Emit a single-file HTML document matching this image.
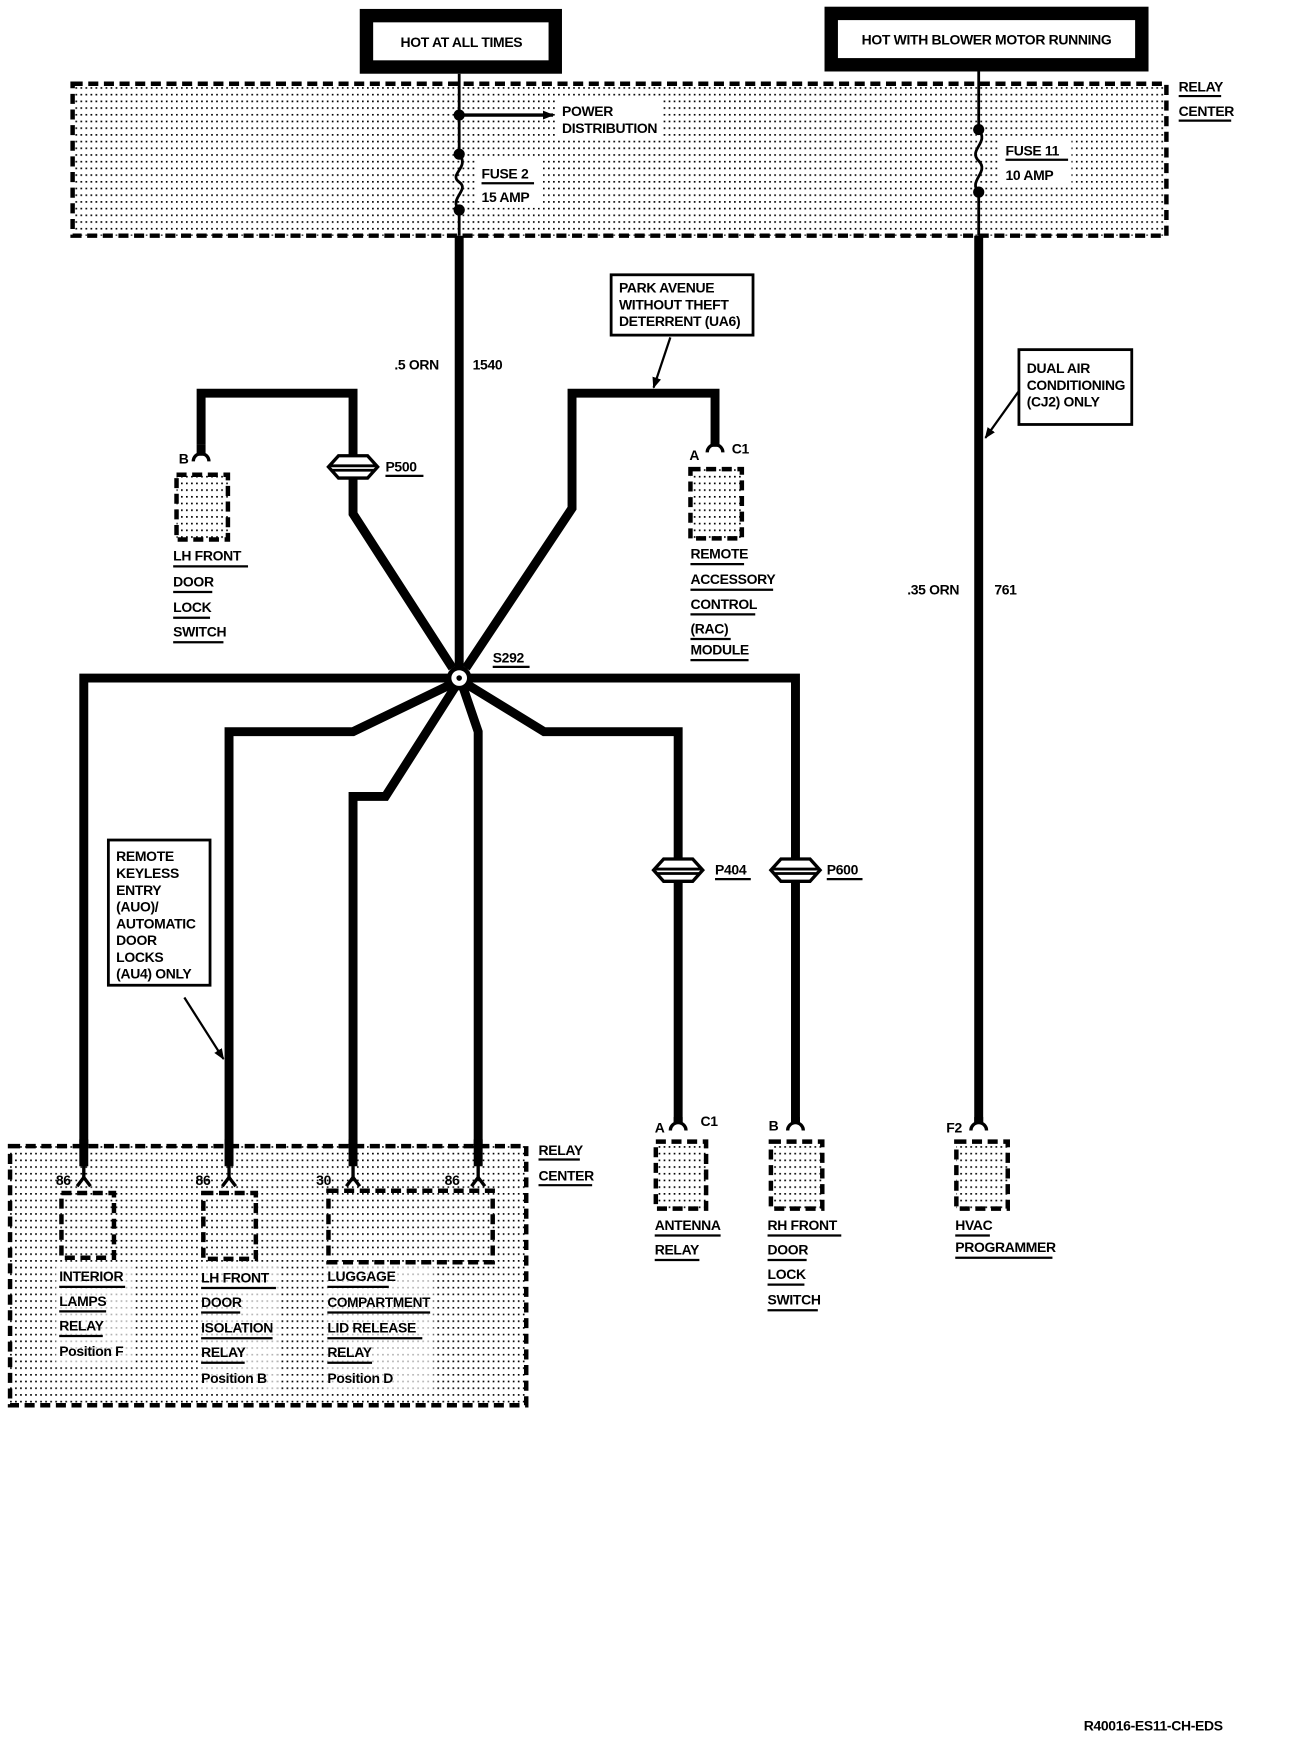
<!DOCTYPE html>
<html><head><meta charset="utf-8"><style>
html,body{margin:0;padding:0;background:#fff;}
svg{display:block;}
text{font-family:"Liberation Sans",sans-serif;font-size:12.5px;fill:#000;font-weight:bold;letter-spacing:-0.3px;}
</style></head><body>
<svg width="1296" height="1756" viewBox="0 0 1160 1572" preserveAspectRatio="none" xmlns="http://www.w3.org/2000/svg">
<defs>
<pattern id="dots" width="4.5" height="6" patternUnits="userSpaceOnUse"><rect x="0" y="0" width="1.5" height="1.5" fill="#000"/></pattern>
<marker id="ah" markerWidth="10" markerHeight="10" refX="9" refY="5" orient="auto" markerUnits="userSpaceOnUse"><path d="M0,1 L10,5 L0,9 Z" fill="#000"/></marker>
</defs>

<!-- top source boxes -->
<rect x="328" y="14" width="169" height="46" fill="#fff" stroke="#000" stroke-width="12"/>
<text x="413" y="42" text-anchor="middle">HOT AT ALL TIMES</text>
<rect x="744" y="12" width="278" height="46" fill="#fff" stroke="#000" stroke-width="12"/>
<text x="883" y="40" text-anchor="middle">HOT WITH BLOWER MOTOR RUNNING</text>

<!-- top relay center -->
<rect x="65" y="75" width="979" height="136" fill="url(#dots)" stroke="#000" stroke-width="4" stroke-dasharray="9,5"/>
<rect x="498" y="88" width="95" height="36" fill="#fff"/>
<rect x="426" y="142" width="58" height="44" fill="#fff"/>
<rect x="895" y="122" width="64" height="44" fill="#fff"/>
<text x="1055" y="82">RELAY</text><line x1="1055" y1="86" x2="1093" y2="86" stroke="#000" stroke-width="2"/>
<text x="1055" y="104">CENTER</text><line x1="1055" y1="108" x2="1102" y2="108" stroke="#000" stroke-width="2"/>

<!-- left feed -->
<line x1="411" y1="66" x2="411" y2="138" stroke="#000" stroke-width="2.5"/>
<path d="M411,138 C421,150 401,156 411,163 C421,170 401,178 411,188" fill="none" stroke="#000" stroke-width="2.5"/>
<line x1="411" y1="188" x2="411" y2="211" stroke="#000" stroke-width="2.5"/>
<circle cx="411" cy="103" r="5"/><circle cx="411" cy="138" r="5"/><circle cx="411" cy="188" r="5"/>
<line x1="411" y1="103" x2="495" y2="103" stroke="#000" stroke-width="3" marker-end="url(#ah)"/>
<text x="503" y="104">POWER</text>
<text x="503" y="119">DISTRIBUTION</text>
<text x="431" y="160">FUSE 2</text><line x1="431" y1="164" x2="478" y2="164" stroke="#000" stroke-width="2"/>
<text x="431" y="181">15 AMP</text>

<!-- right feed -->
<line x1="876" y1="64" x2="876" y2="116" stroke="#000" stroke-width="2.5"/>
<path d="M876,116 C886,128 866,134 876,144 C886,154 866,162 876,172" fill="none" stroke="#000" stroke-width="2.5"/>
<line x1="876" y1="172" x2="876" y2="211" stroke="#000" stroke-width="2.5"/>
<circle cx="876" cy="116" r="5"/><circle cx="876" cy="172" r="5"/>
<text x="900" y="139">FUSE 11</text><line x1="900" y1="143" x2="956" y2="143" stroke="#000" stroke-width="2"/>
<text x="900" y="161">10 AMP</text>

<g stroke="#000" stroke-width="8" fill="none" stroke-linejoin="miter">
<line x1="411" y1="211" x2="411" y2="600"/>
<line x1="876" y1="211" x2="876" y2="1005"/>
<polyline points="405,598 316,460 316,428"/>
<polyline points="316,408 316,352 180,352 180,398"/>
<polyline points="417,598 512,455 512,352 640,352 640,398"/>
<polyline points="75,1025 75,607 405,607"/>
<polyline points="417,607 712,607 712,772"/>
<line x1="712" y1="786" x2="712" y2="1005"/>
<polyline points="405,612 316,655 205,655 205,1025"/>
<polyline points="408,614 345,713 316,713 316,1025"/>
<polyline points="414,614 428,655 428,1025"/>
<polyline points="417,612 487,655 607,655 607,772"/>
<line x1="607" y1="786" x2="607" y2="1005"/>
</g>

<circle cx="411" cy="607" r="9" fill="#fff" stroke="#000" stroke-width="4"/>
<circle cx="411" cy="607" r="2.5"/>
<text x="441" y="593">S292</text><line x1="441" y1="597" x2="474" y2="597" stroke="#000" stroke-width="2"/>

<g fill="#fff" stroke="#000" stroke-width="3">
<path d="M294,418 L303,408 L329,408 L338,418 L329,428 L303,428 Z"/>
<path d="M585,779 L594,769 L620,769 L629,779 L620,789 L594,789 Z"/>
<path d="M690,779 L699,769 L725,769 L734,779 L725,789 L699,789 Z"/>
</g>
<g stroke="#000" stroke-width="2.5"><line x1="296" y1="417" x2="336" y2="417"/><line x1="296" y1="421" x2="336" y2="421"/>
<line x1="587" y1="778" x2="627" y2="778"/><line x1="587" y1="782" x2="627" y2="782"/>
<line x1="692" y1="778" x2="732" y2="778"/><line x1="692" y1="782" x2="732" y2="782"/></g>
<text x="345" y="422">P500</text><line x1="345" y1="426" x2="379" y2="426" stroke="#000" stroke-width="2"/>
<text x="640" y="783">P404</text><line x1="640" y1="787" x2="672" y2="787" stroke="#000" stroke-width="2"/>
<text x="740" y="783">P600</text><line x1="740" y1="787" x2="772" y2="787" stroke="#000" stroke-width="2"/>

<text x="353" y="331">.5 ORN</text><text x="423" y="331">1540</text>
<text x="812" y="532">.35 ORN</text><text x="890" y="532">761</text>

<rect x="547" y="246" width="127" height="54" fill="#fff" stroke="#000" stroke-width="2.5"/>
<text x="554" y="262">PARK AVENUE</text><text x="554" y="277">WITHOUT THEFT</text><text x="554" y="292">DETERRENT (UA6)</text>
<line x1="600" y1="302" x2="585" y2="347" stroke="#000" stroke-width="2" marker-end="url(#ah)"/>

<rect x="912" y="313" width="101" height="67" fill="#fff" stroke="#000" stroke-width="2.5"/>
<text x="919" y="334">DUAL AIR</text><text x="919" y="349" textLength="88" lengthAdjust="spacingAndGlyphs">CONDITIONING</text><text x="919" y="364">(CJ2) ONLY</text>
<line x1="912" y1="350" x2="882" y2="392" stroke="#000" stroke-width="2" marker-end="url(#ah)"/>

<rect x="97" y="752" width="91" height="130" fill="#fff" stroke="#000" stroke-width="2.5"/>
<g><text x="104" y="771">REMOTE</text><text x="104" y="786">KEYLESS</text><text x="104" y="801">ENTRY</text><text x="104" y="816">(AUO)/</text><text x="104" y="831">AUTOMATIC</text><text x="104" y="846">DOOR</text><text x="104" y="861">LOCKS</text><text x="104" y="876">(AU4) ONLY</text></g>
<line x1="165" y1="893" x2="200" y2="948" stroke="#000" stroke-width="2" marker-end="url(#ah)"/>

<g fill="none" stroke="#000" stroke-width="3">
<path d="M173,413 A7,7 0 0 1 187,413"/>
<path d="M633,405 A7,7 0 0 1 647,405"/>
<path d="M600,1012 A7,7 0 0 1 614,1012"/>
<path d="M705,1012 A7,7 0 0 1 719,1012"/>
<path d="M869,1012 A7,7 0 0 1 883,1012"/>
</g>
<g stroke="#000" stroke-width="8"><line x1="180" y1="398" x2="180" y2="408"/><line x1="640" y1="396" x2="640" y2="400"/><line x1="607" y1="1000" x2="607" y2="1006"/><line x1="712" y1="1000" x2="712" y2="1006"/><line x1="876" y1="1000" x2="876" y2="1006"/></g>

<g fill="url(#dots)" stroke="#000" stroke-width="4" stroke-dasharray="9,5">
<rect x="158" y="425" width="46" height="58"/>
<rect x="618" y="420" width="46" height="62"/>
<rect x="587" y="1022" width="45" height="60"/>
<rect x="690" y="1022" width="46" height="60"/>
<rect x="856" y="1022" width="46" height="60"/>
</g>
<text x="160" y="415">B</text>
<text x="617" y="412">A</text><text x="655" y="406">C1</text>
<text x="586" y="1014">A</text><text x="627" y="1008">C1</text>
<text x="688" y="1012">B</text>
<text x="847" y="1014">F2</text>

<text x="155" y="502">LH FRONT</text><line x1="155" y1="507" x2="222" y2="507" stroke="#000" stroke-width="2"/>
<text x="155" y="525">DOOR</text><line x1="155" y1="530" x2="190" y2="530" stroke="#000" stroke-width="2"/>
<text x="155" y="548">LOCK</text><line x1="155" y1="553" x2="188" y2="553" stroke="#000" stroke-width="2"/>
<text x="155" y="570">SWITCH</text><line x1="155" y1="575" x2="200" y2="575" stroke="#000" stroke-width="2"/>

<text x="618" y="500">REMOTE</text><line x1="618" y1="505" x2="666" y2="505" stroke="#000" stroke-width="2"/>
<text x="618" y="523">ACCESSORY</text><line x1="618" y1="528" x2="692" y2="528" stroke="#000" stroke-width="2"/>
<text x="618" y="545">CONTROL</text><line x1="618" y1="550" x2="676" y2="550" stroke="#000" stroke-width="2"/>
<text x="618" y="567">(RAC)</text><line x1="618" y1="572" x2="654" y2="572" stroke="#000" stroke-width="2"/>
<text x="618" y="586">MODULE</text><line x1="618" y1="591" x2="670" y2="591" stroke="#000" stroke-width="2"/>

<text x="586" y="1101">ANTENNA</text><line x1="586" y1="1106" x2="645" y2="1106" stroke="#000" stroke-width="2"/>
<text x="586" y="1123">RELAY</text><line x1="586" y1="1128" x2="626" y2="1128" stroke="#000" stroke-width="2"/>

<text x="687" y="1101">RH FRONT</text><line x1="687" y1="1106" x2="753" y2="1106" stroke="#000" stroke-width="2"/>
<text x="687" y="1123">DOOR</text><line x1="687" y1="1128" x2="722" y2="1128" stroke="#000" stroke-width="2"/>
<text x="687" y="1145">LOCK</text><line x1="687" y1="1150" x2="720" y2="1150" stroke="#000" stroke-width="2"/>
<text x="687" y="1168">SWITCH</text><line x1="687" y1="1173" x2="732" y2="1173" stroke="#000" stroke-width="2"/>

<text x="855" y="1101">HVAC</text><line x1="855" y1="1106" x2="886" y2="1106" stroke="#000" stroke-width="2"/>
<text x="855" y="1121">PROGRAMMER</text><line x1="855" y1="1126" x2="942" y2="1126" stroke="#000" stroke-width="2"/>

<!-- lower relay center -->
<rect x="9" y="1026" width="462" height="232" fill="url(#dots)" stroke="#000" stroke-width="4" stroke-dasharray="9,5"/>
<rect x="50" y="1132" width="70" height="90" fill="#fff" opacity="0.7"/>
<rect x="177" y="1134" width="72" height="112" fill="#fff" opacity="0.7"/>
<rect x="290" y="1134" width="98" height="112" fill="#fff" opacity="0.7"/>
<g stroke="#000" stroke-width="8">
<line x1="75" y1="1020" x2="75" y2="1044"/><line x1="205" y1="1020" x2="205" y2="1044"/><line x1="316" y1="1020" x2="316" y2="1044"/><line x1="428" y1="1020" x2="428" y2="1044"/>
</g>
<g stroke="#000" stroke-width="3" fill="none">
<line x1="75" y1="1040" x2="75" y2="1054"/><line x1="205" y1="1040" x2="205" y2="1054"/><line x1="316" y1="1040" x2="316" y2="1054"/><line x1="428" y1="1040" x2="428" y2="1054"/>
<polyline points="69,1062 75,1054 81,1062"/><polyline points="199,1062 205,1054 211,1062"/><polyline points="310,1062 316,1054 322,1062"/><polyline points="422,1062 428,1054 434,1062"/>
</g>
<text x="482" y="1034">RELAY</text><line x1="482" y1="1038" x2="519" y2="1038" stroke="#000" stroke-width="2"/>
<text x="482" y="1057">CENTER</text><line x1="482" y1="1061" x2="530" y2="1061" stroke="#000" stroke-width="2"/>
<text x="50" y="1061">86</text><text x="175" y="1061">86</text><text x="283" y="1061">30</text><text x="398" y="1061">86</text>
<g fill="none" stroke="#000" stroke-width="4" stroke-dasharray="9,5">
<rect x="55" y="1068" width="47" height="58"/>
<rect x="182" y="1068" width="47" height="59"/>
<rect x="294" y="1066" width="147" height="64"/>
</g>
<text x="53" y="1147">INTERIOR</text><line x1="53" y1="1152" x2="112" y2="1152" stroke="#000" stroke-width="2"/>
<text x="53" y="1169">LAMPS</text><line x1="53" y1="1174" x2="95" y2="1174" stroke="#000" stroke-width="2"/>
<text x="53" y="1191">RELAY</text><line x1="53" y1="1196" x2="92" y2="1196" stroke="#000" stroke-width="2"/>
<text x="53" y="1214">Position F</text>
<text x="180" y="1148">LH FRONT</text><line x1="180" y1="1153" x2="247" y2="1153" stroke="#000" stroke-width="2"/>
<text x="180" y="1170">DOOR</text><line x1="180" y1="1175" x2="215" y2="1175" stroke="#000" stroke-width="2"/>
<text x="180" y="1193">ISOLATION</text><line x1="180" y1="1198" x2="244" y2="1198" stroke="#000" stroke-width="2"/>
<text x="180" y="1215">RELAY</text><line x1="180" y1="1220" x2="219" y2="1220" stroke="#000" stroke-width="2"/>
<text x="180" y="1238">Position B</text>
<text x="293" y="1147">LUGGAGE</text><line x1="293" y1="1152" x2="348" y2="1152" stroke="#000" stroke-width="2"/>
<text x="293" y="1170" textLength="92" lengthAdjust="spacingAndGlyphs">COMPARTMENT</text><line x1="293" y1="1175" x2="385" y2="1175" stroke="#000" stroke-width="2"/>
<text x="293" y="1193">LID RELEASE</text><line x1="293" y1="1198" x2="378" y2="1198" stroke="#000" stroke-width="2"/>
<text x="293" y="1215">RELAY</text><line x1="293" y1="1220" x2="333" y2="1220" stroke="#000" stroke-width="2"/>
<text x="293" y="1238">Position D</text>

<text x="970" y="1549">R40016-ES11-CH-EDS</text>
</svg>
</body></html>
